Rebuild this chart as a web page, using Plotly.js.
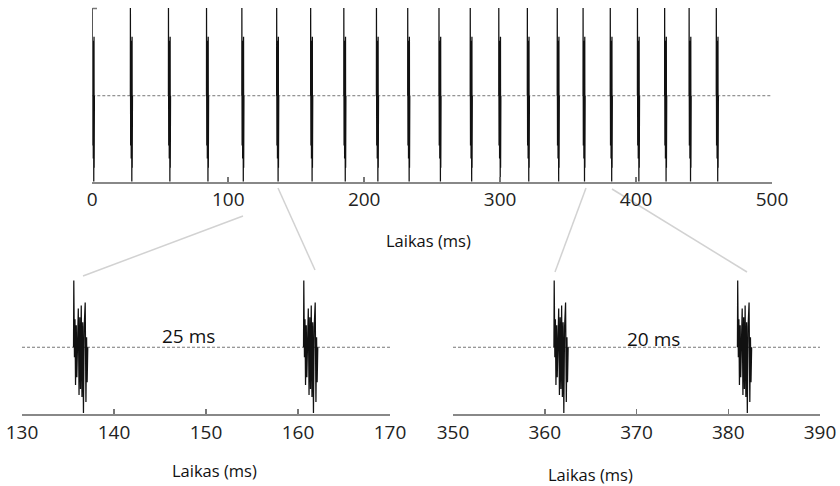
<!DOCTYPE html>
<html>
<head>
<meta charset="utf-8">
<script src="https://cdn.plot.ly/plotly-3.0.1.min.js"></script>
<style>
  html, body { margin: 0; padding: 0; background: #fff; }
  #chart { width: 840px; height: 486px; }
</style>
</head>
<body>
<div id="chart"></div>
<script>
// Burst onset times (ms) of the recorded spike train
const burstOnsets = [0, 28, 56, 84, 110, 135.6, 160.6, 185, 209, 232, 255, 278,
                     299, 320, 342, 361, 381, 401, 421, 439, 459];

// Waveform of a single burst: time from onset (ms) and amplitude (a.u.)
const burstTime = [0.00, 0.03, 0.10, 0.16, 0.22, 0.30, 0.36, 0.44, 0.52, 0.60, 0.68,
                   0.76, 0.84, 0.92, 1.00, 1.08, 1.16, 1.27, 1.35, 1.42, 1.48, 1.55];
const burstAmp  = [0, 67, -10, 28, -38, 22, -30, 18, 39, -48, 30,
                   -42, 42, -50, 25, -66, 20, 45, -55, 10, -35, 0];

// Axis ticks
const topTicks = [0, 100, 200, 300, 400, 500];
const leftTicks = [130, 140, 150, 160, 170];
const rightTicks = [350, 360, 370, 380, 390];

// Inter-burst interval labels
const intervalLabels = ['25 ms', '20 ms'];
const axisTitle = 'Laikas (ms)';

// Assemble the full trace, bursts separated by gaps
const sigX = [], sigY = [];
burstOnsets.forEach(t0 => {
  burstTime.forEach((dt, i) => { sigX.push(t0 + dt); sigY.push(burstAmp[i]); });
  sigX.push(null); sigY.push(null);
});

const W = 840, H = 486;
const px = v => v / W;
const py = v => 1 - v / H;

const FONT = 'Open Sans, Liberation Sans, sans-serif';
const lineStyle = { color: '#111', width: 1.25 };

const traces = [
  { x: sigX, y: sigY, xaxis: 'x',  yaxis: 'y',  type: 'scatter', mode: 'lines', line: lineStyle, hoverinfo: 'skip' },
  { x: sigX, y: sigY, xaxis: 'x2', yaxis: 'y2', type: 'scatter', mode: 'lines', line: lineStyle, hoverinfo: 'skip' },
  { x: sigX, y: sigY, xaxis: 'x3', yaxis: 'y3', type: 'scatter', mode: 'lines', line: lineStyle, hoverinfo: 'skip' }
];

function xAxis(domain, range, ticks, anchor) {
  return {
    domain: domain, range: range, anchor: anchor,
    tickvals: ticks, ticktext: ticks.map(String),
    ticks: 'inside', ticklen: 5, tickwidth: 1.5, tickcolor: '#777',
    showline: true, linecolor: '#888', linewidth: 2,
    showgrid: false, zeroline: false, fixedrange: true,
    tickfont: { family: FONT, size: 19, color: '#222' }
  };
}
function yAxis(domain, range, anchor) {
  return { domain: domain, range: range, anchor: anchor, visible: false, fixedrange: true };
}

// Dashed baseline in each panel
const baseline = (xr, yr) => ({
  type: 'line', layer: 'below', xref: xr + ' domain', yref: yr,
  x0: 0, x1: 1, y0: 0, y1: 0,
  line: { color: '#777', width: 1, dash: '3px,2px' }
});

// Light connectors from the overview to the zoomed panels
const connector = (x0, y0, x1, y1) => ({
  type: 'line', layer: 'below', xref: 'paper', yref: 'paper',
  x0: px(x0), y0: py(y0), x1: px(x1), y1: py(y1),
  line: { color: '#d2d2d2', width: 1.5 }
});

const layout = {
  width: W, height: H,
  margin: { l: 0, r: 0, t: 0, b: 0 },
  paper_bgcolor: '#fff', plot_bgcolor: 'rgba(0,0,0,0)',
  showlegend: false,
  xaxis:  xAxis([px(92.3), px(772)], [0, 500], topTicks, 'y'),
  yaxis:  yAxis([py(181.5), py(8)], [-65.5, 67], 'x'),
  xaxis2: xAxis([px(22), px(390)], [130, 170], leftTicks, 'y2'),
  yaxis2: yAxis([py(414), py(280)], [-67, 67.5], 'x2'),
  xaxis3: xAxis([px(453), px(820)], [350, 390], rightTicks, 'y3'),
  yaxis3: yAxis([py(414), py(280)], [-67, 67.5], 'x3'),
  shapes: [
    baseline('x', 'y'), baseline('x2', 'y2'), baseline('x3', 'y3'),
    { type: 'line', xref: 'paper', yref: 'paper', x0: px(92.5), x1: px(97), y0: py(8.5), y1: py(8.5),
      line: { color: '#777', width: 1.5 } },
    connector(243, 216, 83, 276),
    connector(278, 188, 315, 270),
    connector(586, 188, 555, 272),
    connector(612, 189, 747, 272)
  ],
  annotations: [
    { text: axisTitle, xref: 'paper', yref: 'paper', x: px(428), y: py(240), showarrow: false,
      xanchor: 'center', yanchor: 'middle', font: { family: FONT, size: 16.5, color: '#111' } },
    { text: axisTitle, xref: 'paper', yref: 'paper', x: px(215), y: py(470), showarrow: false,
      xanchor: 'center', yanchor: 'middle', font: { family: FONT, size: 16.5, color: '#111' } },
    { text: axisTitle, xref: 'paper', yref: 'paper', x: px(590), y: py(474), showarrow: false,
      xanchor: 'center', yanchor: 'middle', font: { family: FONT, size: 16.5, color: '#111' } },
    { text: intervalLabels[0], xref: 'x2', yref: 'paper', x: (burstOnsets[5] + burstOnsets[6]) / 2, y: py(336),
      showarrow: false, xanchor: 'center', yanchor: 'middle', font: { family: FONT, size: 19, color: '#111' } },
    { text: intervalLabels[1], xref: 'x3', yref: 'paper', x: 371.9, y: py(339),
      showarrow: false, xanchor: 'center', yanchor: 'middle', font: { family: FONT, size: 19, color: '#111' } }
  ]
};

Plotly.newPlot('chart', traces, layout, { staticPlot: true, displayModeBar: false });
</script>
</body>
</html>
